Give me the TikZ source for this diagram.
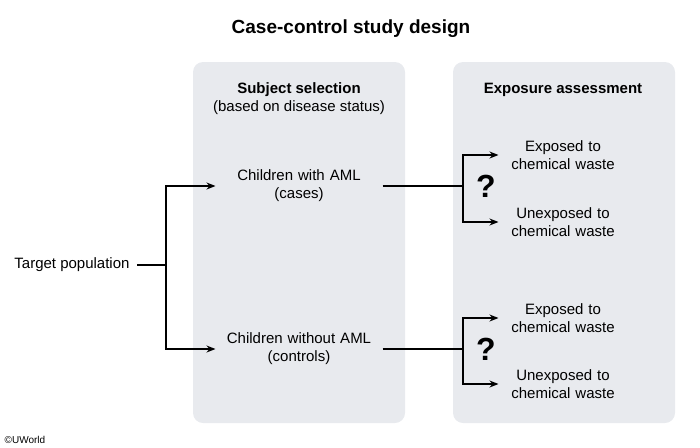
\documentclass[tikz,border=0pt]{standalone}
\usepackage{fontspec}
\setmainfont{Liberation Sans}
\usetikzlibrary{positioning,arrows.meta}
\definecolor{panelgray}{RGB}{232,234,238}

\begin{document}
\begin{tikzpicture}[x=1pt, y=-1pt, font=\fontsize{15}{18}\selectfont,
  panel/.style={fill=panelgray, rounded corners=10pt},
  txt/.style={align=center, text width=160pt},
  outc/.style={align=center, text width=122pt},
  qmark/.style={font=\bfseries\fontsize{32}{32}\selectfont},
  line/.style={line width=1.5pt},
  arr/.style={line width=1.5pt, -{Stealth[length=9pt,width=7pt]}}]
\newcommand{\Pantop}{62}; % top of panels
\newcommand{\Panbot}{423}; % bottom of panels
\newcommand{\Yca}{186}; % cases row
\newcommand{\Yco}{349}; % controls row

\useasboundingbox (0,0) rectangle (700,447);

% panels
\fill[panel] (193,\Pantop) rectangle (405,\Panbot);
\fill[panel] (453,\Pantop) rectangle (675,\Panbot);
%

\node[font=\bfseries\fontsize{19}{22}\selectfont] (title) at (351,29) {Case-control study design};
\node[align=center] (selhead) at (299,99) {\textbf{Subject selection}\\(based on disease status)};
\node[font=\bfseries\fontsize{15}{18}\selectfont] (exphead) at (563,90) {Exposure assessment};

\node (target) at (72,265) {Target population};
\node[txt] (cases) at (299,\Yca) {Children with AML\\(cases)};
\node[txt] (controls) at (299,\Yco) {Children without AML\\(controls)};

\node[outc] (expA) at (563,155) {Exposed to\\chemical waste};
\node[outc] (unexpA) at (563,222) {Unexposed to\\chemical waste};
\node[outc] (expB) at (563,318) {Exposed to\\chemical waste};
\node[outc] (unexpB) at (563,384) {Unexposed to\\chemical waste};

\node[qmark] (qA) at (486,\Yca) {?};
\node[qmark] (qB) at (486,\Yco) {?};

\coordinate (split) at (166,265);
\coordinate (forkA) at (463,\Yca);
\coordinate (forkB) at (463,\Yco);

% selection
\draw[line, shorten <=4pt] (target.east) -- (split);
\draw[arr] (split) |- (cases.west);
\draw[arr] (split) |- (controls.west);

% exposure
\draw[line] (cases.east) -- (forkA);
\draw[arr] (forkA) |- (expA.west);
\draw[arr] (forkA) |- (unexpA.west);
\draw[line] (controls.east) -- (forkB);
\draw[arr] (forkB) |- (expB.west);
\draw[arr] (forkB) |- (unexpB.west);

\node[font=\fontsize{10}{12}\selectfont] (copy) at (25,440) {©UWorld};
\end{tikzpicture}
\end{document}
